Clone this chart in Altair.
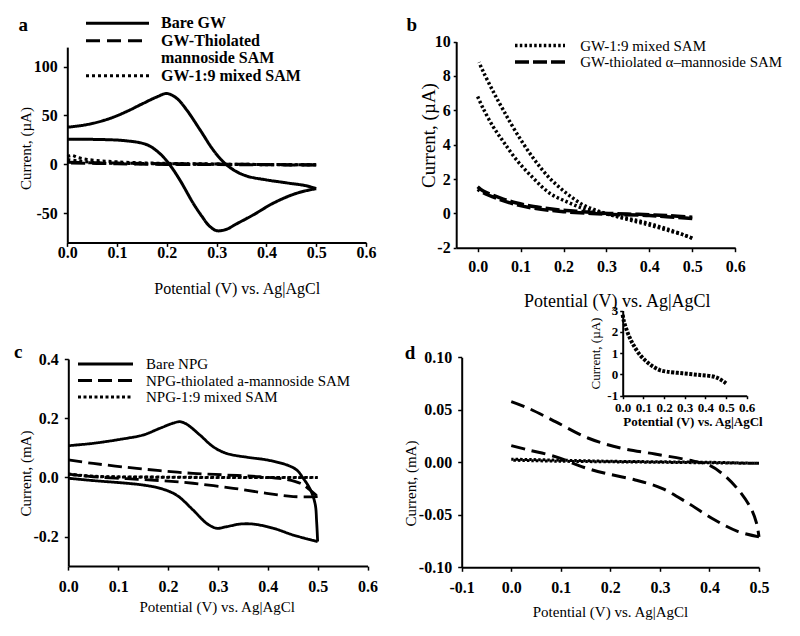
import altair as alt
import pandas as pd

FONT = "Liberation Serif"
W, H = 784, 620

# ---------------- Panel a (µA) ----------------
A_SERIES = ["Bare GW", "GW-Thiolated mannoside SAM", "GW-1:9 mixed SAM"]
A_LEGEND_WRAP = "mannoside SAM"  # second line of the wrapped legend label
A_BARE_FWD_V = [0.0, 0.026, 0.052, 0.086, 0.119, 0.153, 0.18, 0.2, 0.22, 0.24, 0.267, 0.293, 0.313, 0.334, 0.36, 0.4, 0.44, 0.48, 0.5]
A_BARE_FWD_I = [38, 39.5, 42, 47, 54, 62.5, 69, 72.5, 67.5, 55.5, 35, 14.7, 2.7, -5.8, -12, -16, -19, -22, -25]
A_BARE_REV_V = [0.5, 0.48, 0.453, 0.413, 0.373, 0.34, 0.32, 0.3, 0.285, 0.27, 0.253, 0.226, 0.206, 0.186, 0.16, 0.119, 0.052, 0.0]
A_BARE_REV_I = [-25, -27, -31, -40, -52, -61, -66.5, -68, -63, -53, -40, -16, -0.7, 11, 20, 24, 25.5, 25.5]
A_THIO_FWD_V = [0.0, 0.1, 0.2, 0.3, 0.4, 0.5]
A_THIO_FWD_I = [2.0, 1.2, 0.6, 0.2, -0.2, -0.6]
A_THIO_REV_V = [0.5, 0.4, 0.3, 0.2, 0.1, 0.0]
A_THIO_REV_I = [-0.8, -0.5, -0.3, -0.1, 0.5, 1.5]
A_MIX_FWD_V = [0.0, 0.01, 0.02, 0.04, 0.07, 0.1, 0.15, 0.2, 0.3, 0.4, 0.5]
A_MIX_FWD_I = [8.0, 9.0, 7.0, 5.0, 3.5, 2.5, 1.5, 1.0, 0.3, -0.2, -0.5]
A_MIX_REV_V = [0.5, 0.4, 0.3, 0.2, 0.1, 0.05, 0.02, 0.0]
A_MIX_REV_I = [-0.5, -0.4, 0.0, 0.3, 1.0, 2.0, 3.5, 5.0]

# ---------------- Panel b (µA) ----------------
B_SERIES = ["GW-1:9 mixed SAM", "GW-thiolated \u03b1\u2013mannoside SAM"]
B_MIX_FWD_V = [0.0, 0.013, 0.036, 0.06, 0.091, 0.13, 0.168, 0.207, 0.246, 0.285, 0.324, 0.36, 0.4, 0.44, 0.48, 0.5]
B_MIX_FWD_I = [6.8, 6.1, 5.05, 4.17, 3.1, 2.04, 1.17, 0.68, 0.29, 0.05, -0.15, -0.35, -0.6, -0.9, -1.25, -1.45]
B_MIX_REV_V = [0.5, 0.48, 0.44, 0.4, 0.37, 0.324, 0.285, 0.246, 0.207, 0.168, 0.13, 0.091, 0.06, 0.036, 0.013, 0.003]
B_MIX_REV_I = [-1.45, -1.26, -0.97, -0.68, -0.49, -0.19, 0.1, 0.49, 1.17, 2.04, 3.2, 4.66, 6.0, 7.1, 8.25, 8.8]
B_THIO_FWD_V = [0.0, 0.013, 0.052, 0.091, 0.13, 0.168, 0.207, 0.246, 0.285, 0.324, 0.362, 0.4, 0.44, 0.5]
B_THIO_FWD_I = [1.55, 1.3, 0.9, 0.6, 0.4, 0.27, 0.16, 0.1, 0.02, -0.02, -0.05, -0.08, -0.13, -0.22]
B_THIO_REV_V = [0.5, 0.44, 0.4, 0.3, 0.2, 0.13, 0.091, 0.052, 0.013, 0.0]
B_THIO_REV_I = [-0.3, -0.2, -0.12, -0.05, 0.1, 0.3, 0.5, 0.8, 1.2, 1.4]

# ---------------- Panel c (mA) ----------------
C_SERIES = ["Bare NPG", "NPG-thiolated a-mannoside SAM", "NPG-1:9 mixed SAM"]
C_BARE_FWD_V = [0.0, 0.05, 0.117, 0.15, 0.184, 0.21, 0.224, 0.237, 0.264, 0.29, 0.317, 0.358, 0.398, 0.438, 0.458, 0.471, 0.485, 0.495, 0.498, 0.5]
C_BARE_FWD_I = [0.107, 0.115, 0.132, 0.143, 0.166, 0.183, 0.188, 0.18, 0.143, 0.104, 0.081, 0.068, 0.059, 0.042, 0.025, -0.003, -0.04, -0.09, -0.15, -0.217]
C_BARE_REV_V = [0.5, 0.451, 0.411, 0.371, 0.344, 0.317, 0.297, 0.277, 0.25, 0.217, 0.184, 0.15, 0.117, 0.05, 0.0]
C_BARE_REV_I = [-0.217, -0.195, -0.172, -0.158, -0.158, -0.167, -0.172, -0.155, -0.11, -0.06, -0.037, -0.026, -0.02, -0.011, -0.003]
C_THIO_FWD_V = [0.0, 0.05, 0.117, 0.184, 0.25, 0.317, 0.384, 0.438, 0.465, 0.485, 0.5]
C_THIO_FWD_I = [0.059, 0.047, 0.034, 0.0225, 0.0135, 0.008, 0.002, -0.007, -0.02, -0.043, -0.065]
C_THIO_REV_V = [0.5, 0.451, 0.398, 0.331, 0.25, 0.184, 0.117, 0.05, 0.0]
C_THIO_REV_I = [-0.065, -0.065, -0.054, -0.037, -0.02, -0.011, -0.0045, 0.002, 0.011]
C_MIX_FWD_V = [0.0, 0.02, 0.05, 0.1, 0.2, 0.3, 0.4, 0.5]
C_MIX_FWD_I = [0.012, 0.008, 0.004, 0.002, 0.001, 0.0, 0.0, 0.0]
C_MIX_REV_V = [0.5, 0.4, 0.3, 0.2, 0.1, 0.05, 0.0]
C_MIX_REV_I = [-0.001, -0.001, -0.001, 0.0, 0.001, 0.003, 0.01]

# ---------------- Panel d (mA) ----------------
D_SERIES = ["NPG-thiolated a-mannoside SAM", "NPG-1:9 mixed SAM"]
D_THIO_FWD_V = [0.0, 0.035, 0.089, 0.156, 0.223, 0.29, 0.357, 0.398, 0.425, 0.458, 0.485, 0.495, 0.5]
D_THIO_FWD_I = [0.0578, 0.0514, 0.0387, 0.0229, 0.0133, 0.0079, 0.0022, -0.0025, -0.0105, -0.026, -0.045, -0.058, -0.071]
D_THIO_REV_V = [0.5, 0.458, 0.411, 0.357, 0.304, 0.25, 0.19, 0.142, 0.089, 0.035, 0.0]
D_THIO_REV_I = [-0.071, -0.066, -0.055, -0.039, -0.0248, -0.0168, -0.0105, -0.0041, 0.0054, 0.0117, 0.0159]
D_MIX_FWD_V = [0.0, 0.1, 0.2, 0.3, 0.4, 0.5]
D_MIX_FWD_I = [0.003, 0.002, 0.001, 0.0005, 0.0, -0.001]
D_MIX_REV_V = [0.5, 0.3, 0.1, 0.0]
D_MIX_REV_I = [-0.001, 0.0, 0.001, 0.002]

# ---------------- Inset (µA) ----------------
E_V = [0.0, 0.006, 0.019, 0.035, 0.052, 0.084, 0.116, 0.148, 0.18, 0.213, 0.29, 0.374, 0.439, 0.47, 0.5]
E_I = [2.8, 2.48, 2.09, 1.7, 1.38, 0.91, 0.6, 0.36, 0.2, 0.13, 0.05, -0.03, -0.1, -0.22, -0.42]

XTITLE = "Potential (V) vs. Ag|AgCl"


def frame(parts):
    rows = []
    for series, branch, vs, cs in parts:
        for i, (v, c) in enumerate(zip(vs, cs)):
            rows.append({"series": series, "branch": f"{series}-{branch}", "V": v, "I": c, "i": i})
    return pd.DataFrame(rows)


def lab(fmt):
    return f"replace(format(datum.value, '{fmt}'), '\u2212', '-')"


def xaxis(axis_y, values, fmt, tx, ty, tick, lpad, lfs=16, tfs=15, tweight="normal"):
    return alt.Axis(
        orient="bottom", offset=axis_y - H, values=values, labelExpr=lab(fmt), grid=False,
        domainColor="black", domainWidth=2, tickColor="black", tickWidth=1.5, tickSize=tick,
        labelPadding=lpad, labelFont=FONT, labelFontSize=lfs, labelFontWeight="bold",
        labelColor="black", labelFlush=False, labelOverlap=False,
        title=XTITLE, titleFont=FONT, titleFontSize=tfs, titleFontWeight=tweight,
        titleColor="black", titleX=tx, titleY=ty - axis_y, titleAlign="center",
        titleBaseline="middle",
    )


def yaxis(axis_x, values, fmt, title, tx, ty, tick, lpad, lfs=16, tfs=15):
    return alt.Axis(
        orient="left", offset=-axis_x, values=values, labelExpr=lab(fmt), grid=False,
        domainColor="black", domainWidth=2, tickColor="black", tickWidth=1.5, tickSize=tick,
        labelPadding=lpad, labelFont=FONT, labelFontSize=lfs, labelFontWeight="bold",
        labelColor="black", labelFlush=False, labelOverlap=False,
        title=title, titleFont=FONT, titleFontSize=tfs, titleFontWeight="normal",
        titleColor="black", titleX=tx - axis_x, titleY=ty, titleAlign="center",
        titleBaseline="middle", titleAngle=270,
    )


def panel(df, xdom, xr, ydom, yr, xax, yax, sdom, srange, legend, width=3, widths=None):
    enc = dict(
        x=alt.X("V:Q", scale=alt.Scale(domain=xdom, range=xr, nice=False, zero=False), axis=xax),
        y=alt.Y("I:Q", scale=alt.Scale(domain=ydom, range=yr, nice=False, zero=False), axis=yax),
        strokeDash=alt.StrokeDash("series:N", scale=alt.Scale(domain=sdom, range=srange), legend=legend),
        detail="branch:N",
        order="i:Q",
    )
    if widths is not None:
        enc["strokeWidth"] = alt.StrokeWidth("series:N", scale=alt.Scale(domain=sdom, range=widths), legend=None)
    return alt.Chart(df).mark_line(
        color="black", strokeWidth=width, strokeCap="butt", strokeJoin="round",
        interpolate="catmull-rom",
    ).encode(**enc)


TICKS_06 = [0, 0.1, 0.2, 0.3, 0.4, 0.5, 0.6]

# Panel a
dfa = frame([
    (A_SERIES[0], "f", A_BARE_FWD_V, A_BARE_FWD_I), (A_SERIES[0], "r", A_BARE_REV_V, A_BARE_REV_I),
    (A_SERIES[1], "f", A_THIO_FWD_V, A_THIO_FWD_I), (A_SERIES[1], "r", A_THIO_REV_V, A_THIO_REV_I),
    (A_SERIES[2], "f", A_MIX_FWD_V, A_MIX_FWD_I), (A_SERIES[2], "r", A_MIX_REV_V, A_MIX_REV_I),
])
leg_a = alt.Legend(
    orient="none", legendX=79, legendY=7.2, direction="vertical", title=None, padding=0,
    symbolType="M-6.3,0H6.3", symbolSize=100, symbolStrokeWidth=3, symbolStrokeColor="black",
    symbolOffset=22.5, labelOffset=35.5, labelFont=FONT, labelFontSize=16, labelFontWeight="bold",
    labelColor="black", labelLimit=400, rowPadding=1.5,
    labelExpr="datum.label == 'GW-Thiolated mannoside SAM' ? 'GW-Thiolated' : datum.label",
)
ca = panel(
    dfa, [0, 0.6], [59.3, 358], [-80, 120], [234.4, 39.1],
    xaxis(234.4, TICKS_06, ".1f", 228.7, 280.3, 4, -2, tfs=16),
    yaxis(59.3, [-50, 0, 50, 100], "d", "Current, (\u00b5A)", 17, 140, 4, 6),
    [A_SERIES[0], A_SERIES[1], A_LEGEND_WRAP, A_SERIES[2]],
    [[1, 0], [14, 7], [0, 100], [3, 3]], leg_a,
)

# Panel b
dfb = frame([
    (B_SERIES[0], "f", B_MIX_FWD_V, B_MIX_FWD_I), (B_SERIES[0], "r", B_MIX_REV_V, B_MIX_REV_I),
    (B_SERIES[1], "f", B_THIO_FWD_V, B_THIO_FWD_I), (B_SERIES[1], "r", B_THIO_REV_V, B_THIO_REV_I),
])
leg_b = alt.Legend(
    orient="none", legendX=507, legendY=30, direction="vertical", title=None, padding=0,
    symbolType="M-5,0H5", symbolSize=100, symbolStrokeWidth=3.5, symbolStrokeColor="black",
    symbolOffset=17.5, labelOffset=32.7, labelFont=FONT, labelFontSize=15, labelFontWeight="normal",
    labelColor="black", labelLimit=400, rowPadding=0.5,
)
cb = panel(
    dfb, [-0.05, 0.6], [448.2, 727.2], [-2, 10], [239.7, 33.6],
    xaxis(239.7, TICKS_06, ".1f", 608.7, 293.7, 4, 7, tfs=18),
    yaxis(448.2, [-2, 0, 2, 4, 6, 8, 10], "d", "Current, (\u00b5A)", 420, 127, 3, 3, tfs=19),
    B_SERIES, [[2.5, 2.3], [14, 4]], leg_b, width=3.5,
)

# Panel c
dfc = frame([
    (C_SERIES[0], "f", C_BARE_FWD_V, C_BARE_FWD_I), (C_SERIES[0], "r", C_BARE_REV_V, C_BARE_REV_I),
    (C_SERIES[1], "f", C_THIO_FWD_V, C_THIO_FWD_I), (C_SERIES[1], "r", C_THIO_REV_V, C_THIO_REV_I),
    (C_SERIES[2], "f", C_MIX_FWD_V, C_MIX_FWD_I), (C_SERIES[2], "r", C_MIX_REV_V, C_MIX_REV_I),
])
leg_c = alt.Legend(
    orient="none", legendX=70, legendY=348.5, direction="vertical", title=None, padding=0,
    symbolType="M-5.5,0H5.5", symbolSize=100, symbolStrokeWidth=3, symbolStrokeColor="black",
    symbolOffset=20, labelOffset=33, labelFont=FONT, labelFontSize=15, labelFontWeight="normal",
    labelColor="black", labelLimit=400, rowPadding=0.5,
)
cc = panel(
    dfc, [0, 0.6], [60.3, 359.5], [-0.3, 0.4], [558.1, 351],
    xaxis(558.1, TICKS_06, ".1f", 208.7, 598.7, 4, 8),
    yaxis(60.3, [-0.2, 0, 0.2, 0.4], ".1f", "Current, (mA)", 17, 465, 4, 6),
    C_SERIES, [[1, 0], [14, 6], [3, 2.5]], leg_c, width=2.8,
)

# Panel d
dfd = frame([
    (D_SERIES[0], "f", D_THIO_FWD_V, D_THIO_FWD_I), (D_SERIES[0], "r", D_THIO_REV_V, D_THIO_REV_I),
    (D_SERIES[1], "f", D_MIX_FWD_V, D_MIX_FWD_I), (D_SERIES[1], "r", D_MIX_REV_V, D_MIX_REV_I),
])
cd = panel(
    dfd, [-0.1, 0.5], [453.7, 751], [-0.1, 0.1], [559.3, 349.3],
    xaxis(559.3, [-0.1, 0, 0.1, 0.2, 0.3, 0.4, 0.5], ".1f", 602, 603.7, 4, 8),
    yaxis(453.7, [-0.1, -0.05, 0, 0.05, 0.1], ".2f", "Current, (mA)", 402, 475, 4, 6),
    D_SERIES, [[14, 7], [2.5, 2]], None, widths=[3.5, 2.5],
)

# Inset
dfe = frame([("inset", "f", E_V, E_I)])
ce = alt.Chart(dfe).mark_line(
    color="black", strokeWidth=4, strokeCap="butt", strokeDash=[3, 1.5], interpolate="catmull-rom",
).encode(
    x=alt.X("V:Q", scale=alt.Scale(domain=[0, 0.6], range=[614.7, 738.7], nice=False, zero=False),
            axis=xaxis(387.7, TICKS_06, ".1f", 684.5, 413.5, 3, 2.5, lfs=13, tfs=13, tweight="bold")),
    y=alt.Y("I:Q", scale=alt.Scale(domain=[-1, 3], range=[387.7, 302.5], nice=False, zero=False),
            axis=yaxis(614.7, [-1, 0, 1, 2, 3], "d", "Current, (\u00b5A)", 587, 345, 3, 2, lfs=13, tfs=13)),
    order="i:Q",
)

# Panel letters
PANEL_LETTERS = ["a", "b", "c", "d"]
LETTER_POS = [(15.3, 17), (403.7, 17), (10.3, 343.7), (402, 344.7)]
letters = [
    alt.Chart(pd.DataFrame({"t": [t]})).mark_text(
        font=FONT, fontSize=19, fontWeight="bold", color="black", align="center", baseline="middle",
    ).encode(text="t:N", x=alt.value(p[0]), y=alt.value(p[1]))
    for t, p in zip(PANEL_LETTERS, LETTER_POS)
]

chart = alt.layer(ca, cb, cc, cd, ce, *letters).resolve_scale(
    x="independent", y="independent", strokeDash="independent", strokeWidth="independent"
).resolve_axis(x="independent", y="independent").resolve_legend(strokeDash="independent").properties(
    width=W, height=H, autosize=alt.AutoSizeParams(type="none"), padding=0, background="white",
).configure_view(stroke=None)

chart.save("out.html", embed_options={"renderer": "svg", "actions": False})
